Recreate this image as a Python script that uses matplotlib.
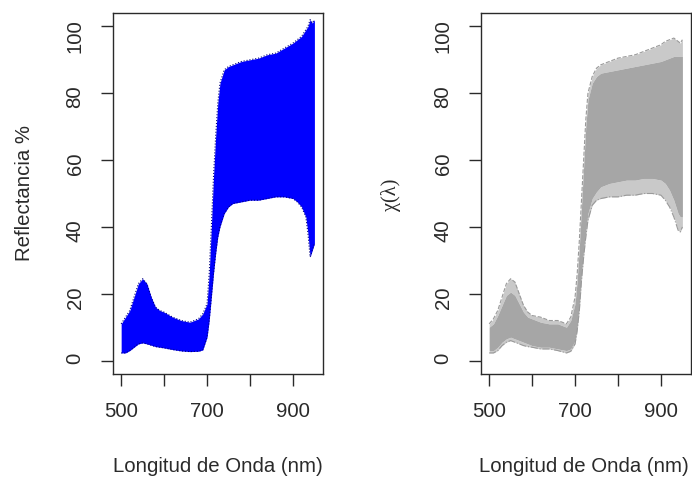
"""
Reflectance spectra (left, blue) and chi(lambda) spectra (right, gray).
Bands read off the reference picture: outer envelope + dense core.
"""

import numpy as np
import matplotlib
matplotlib.use('Agg')
import matplotlib.pyplot as plt

# ── data ─────────────────────────────────────────────────────────────────────
wavelength = [500, 510, 520, 530, 540, 550, 560, 570, 580, 590, 600, 620, 640, 660,
              680, 690, 700, 705, 710, 715, 720, 725, 730, 740, 750, 760, 780, 800,
              820, 840, 860, 880, 900, 910, 920, 930, 935, 940, 945, 950]

refl_max = [11, 13, 15, 19, 23, 24.5, 23, 19, 16, 15, 14.5, 13, 12, 11.5,
            12.5, 14, 17, 26, 40, 55, 67, 77, 83, 87, 88, 88.5, 89.5, 90,
            90.5, 91.5, 92, 93.5, 95, 96, 97, 99, 100, 102, 101, 102]
refl_hi = [10, 11.5, 13.5, 16.5, 19.5, 20.5, 19.5, 16.5, 14.5, 13.5, 13, 12, 11, 11,
           11.5, 13, 16, 25, 39, 54, 66, 76, 82, 85.5, 86.5, 87, 88, 88.5,
           89, 90, 90.5, 91.5, 92.5, 93, 94, 95, 95.5, 96, 96, 96]
refl_lo = [3, 3, 4, 5, 6, 6.5, 6, 5.5, 5, 4.8, 4.5, 4, 3.5, 3.2,
           3.5, 4, 8, 13, 20, 27, 33, 38, 41.5, 45.5, 47.5, 49, 50, 50,
           50.5, 50.5, 51, 51, 50, 49.5, 48, 45, 42, 38, 37, 36]
refl_min = [2.3, 2.3, 3, 4, 5, 5.3, 5, 4.6, 4.2, 4, 3.8, 3.3, 2.9, 2.7,
            2.8, 3.2, 7, 12, 19, 26, 32, 37, 40, 44, 46, 47, 47.5, 48,
            48, 48.5, 49, 49, 48.5, 47.5, 46, 43, 38, 31, 33, 35]

chi_max = [11, 12.5, 15, 19, 23, 24.5, 23.5, 20, 16.5, 14.5, 13.5, 13, 12, 12,
           11, 13, 19, 26, 36, 48, 60, 72, 80, 85, 87.5, 88.5, 89.5, 90.5,
           91, 91.5, 92.5, 93.5, 94.5, 95.5, 96, 96.5, 96, 95.5, 95, 96]
chi_hi = [10, 11, 13.5, 16.5, 19.5, 20.5, 19.5, 17, 14.5, 13, 12.5, 11.5, 11, 11,
          10, 12, 17, 24, 34, 46, 58, 70, 78, 83, 85, 86, 86.5, 87,
          87.5, 88, 88.5, 89, 89.5, 90, 90.5, 91, 91, 91, 91, 91]
chi_lo = [3, 3, 4, 5.5, 6.5, 7, 6.5, 6, 5.5, 5, 4.5, 4, 4, 3.5,
          3, 3.5, 6, 10, 17, 26, 33, 39, 44, 48.5, 50.5, 52, 53, 53.5,
          54, 54, 54.5, 54.5, 54, 53, 51, 48, 46, 44, 43, 43]
chi_min = [2.3, 2.3, 3, 4.5, 5.5, 6, 5.5, 5, 4.5, 4.2, 4, 3.5, 3.5, 3,
           2.3, 2.8, 5, 9, 15, 24, 31, 37, 42, 46.5, 48, 48.5, 49, 49,
           49.5, 49.5, 50, 50, 49.5, 48, 46, 43, 41, 39, 38.5, 40]

x_ticks = [500, 600, 700, 800, 900]
x_tick_labels = ['500', '', '700', '', '900']
y_ticks = [0, 20, 40, 60, 80, 100]

x_label = 'Longitud de Onda (nm)'
y_label_left = 'Reflectancia %'
y_label_right = 'χ(λ)'

# ── figure ───────────────────────────────────────────────────────────────────
W, H = 692, 480
fig = plt.figure(figsize=(W / 100, H / 100), dpi=100)
plt.rcParams['font.family'] = ['Liberation Sans', 'DejaVu Sans']
txt_color = '#2a2a2a'
fs = 14.7

box_w, box_h = 210, 361
box_top = 13
ax_l = fig.add_axes([113 / W, 1 - (box_top + box_h) / H, box_w / W, box_h / H])
ax_r = fig.add_axes([481 / W, 1 - (box_top + box_h) / H, box_w / W, box_h / H])

wl = np.array(wavelength)

# left: solid blue band, dark dotted outliers at its edges
ax_l.fill_between(wl, refl_min, refl_max, color='#0000FF', linewidth=0, zorder=2)
ax_l.plot(wl, refl_max, color='#000080', linestyle=':', linewidth=0.8, zorder=3)
ax_l.plot(wl, refl_min, color='#000080', linestyle=':', linewidth=0.8, zorder=3)

# right: gray core with lighter dotted outer curves
gray = '#A6A6A6'
ax_r.fill_between(wl, chi_lo, chi_hi, color=gray, linewidth=0, zorder=2)
ax_r.fill_between(wl, chi_hi, chi_max, color=gray, alpha=0.6, linewidth=0, zorder=2)
ax_r.fill_between(wl, chi_min, chi_lo, color=gray, alpha=0.6, linewidth=0, zorder=2)
ax_r.plot(wl, chi_max, color='#9A9A9A', linestyle='--', linewidth=0.8, zorder=3)
ax_r.plot(wl, chi_min, color='#9A9A9A', linestyle='-.', linewidth=0.8, zorder=3)

for ax in (ax_l, ax_r):
    ax.set_xlim(481, 970)
    ax.set_ylim(-4, 104)
    ax.set_xticks(x_ticks)
    ax.set_xticklabels(x_tick_labels)
    ax.set_yticks(y_ticks)
    ax.tick_params(axis='both', direction='out', length=8.5, width=1,
                   labelsize=fs, pad=12, colors=txt_color)
    ax.tick_params(axis='y', labelrotation=90)
    for s in ax.spines.values():
        s.set_linewidth(1)
        s.set_color(txt_color)

fig.text(25 / W, 1 - 193 / H, y_label_left, rotation=90, ha='center', va='center',
         fontsize=fs, color=txt_color)
fig.text(391 / W, 1 - 195 / H, y_label_right, rotation=90, ha='center', va='center',
         fontsize=fs, color=txt_color, family=['Liberation Serif', 'DejaVu Serif'])
fig.text(218 / W, 1 - 466 / H, x_label, ha='center', va='center', fontsize=fs, color=txt_color)
fig.text(584 / W, 1 - 466 / H, x_label, ha='center', va='center', fontsize=fs, color=txt_color)

fig.savefig('out.png', dpi=100)
print('Saved: out.png')
